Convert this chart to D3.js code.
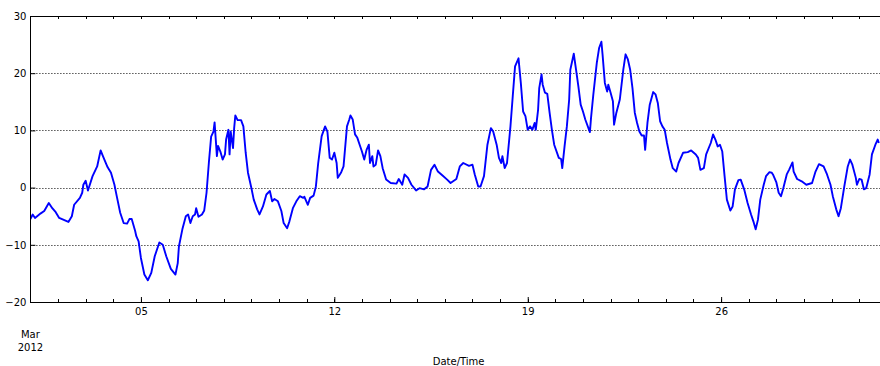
<!DOCTYPE html>
<html>
<head>
<meta charset="utf-8">
<script src="https://cdn.jsdelivr.net/npm/d3@7"></script>
<style>
  html, body { margin: 0; padding: 0; background: #fff; }
  text { font-family: "DejaVu Sans", sans-serif; font-size: 10px; fill: #000; }
</style>
</head>
<body>
<svg id="chart" width="880" height="366"></svg>
<script>
// Hours since 2012-03-01 00:00
const hours = [0,2,4,9,12,16,19,22,25,33,36,38,43,45,46,48,50,54,58,61,63,67,70,73,75,78,81,84,86,88,91,92,
94,96,99,102,105,108,112,115,118,122,126,128,129,132,135,137,139,141,143,144,146,149,151,153,155,157,159,160,162,163,165,167,169,170,172,173,174,176,177,178,180,183,
185,187,189,192,194,197,199,202,205,208,210,212,215,218,220,223,225,228,231,234,237,238,241,243,246,248,250,253,256,258,260,262,264,266,267,270,272,275,
277,278,280,282,284,286,288,290,292,294,295,297,298,300,302,304,306,309,313,318,320,323,325,328,331,335,338,342,345,348,351,354,358,362,365,
370,373,376,381,384,386,389,391,394,397,400,402,405,407,409,410,412,414,417,419,421,424,426,428,430,432,434,436,438,439,441,442,444,445,447,449,451,453,455,459,
461,462,464,466,468,469,472,474,476,478,480,482,486,487,489,492,494,496,497,499,501,502,504,506,507,509,512,515,517,519,521,523,525,527,529,531,533,534,536,538,541,543,545,547,549,551,
553,556,558,561,563,567,571,574,578,580,582,585,587,591,593,595,597,599,601,603,605,608,610,612,615,617,620,623,626,628,630,632,634,637,639,642,644,
645,648,650,652,654,657,659,662,663,666,670,674,679,682,685,689,692,695,697,700,702,704,707,710,712,714,717,718,720,722,724,726,729,731,734,736,737];

const temps = [-5.5,-4.7,-5.3,-4.5,-4.1,-2.7,-3.6,-4.3,-5.3,-6.0,-5.0,-3.0,-1.8,-0.9,0.5,1.2,-0.5,2.0,3.7,6.5,5.5,3.6,2.6,0.5,-1.5,-4.4,-6.2,-6.3,-5.5,-5.5,-7.6,-8.5,
-9.4,-12.3,-15.2,-16.2,-14.9,-12.0,-9.6,-10.0,-12.0,-14.2,-15.2,-13.2,-10.3,-7.3,-5.0,-4.7,-6.2,-5.0,-4.7,-3.6,-5.1,-4.7,-4.0,-0.9,4.3,8.9,9.8,11.4,5.5,7.3,6.3,4.9,5.8,8.4,10.1,5.8,9.8,6.9,10.4,12.6,11.8,11.8,
10.7,6.1,2.6,-0.1,-2.1,-3.8,-4.7,-3.3,-1.2,-0.6,-2.4,-2.0,-2.4,-4.1,-6.2,-7.1,-5.9,-3.6,-2.4,-1.5,-1.8,-1.6,-3.0,-1.8,-1.4,0.2,4.3,9.0,10.7,9.8,5.2,4.9,6.1,4.3,1.7,2.7,3.7,10.7,
11.9,12.6,11.9,9.3,8.7,7.5,6.3,4.9,6.6,7.5,4.3,5.5,3.7,4.0,6.5,5.5,3.4,1.4,0.8,0.7,1.5,0.5,2.3,1.7,0.5,-0.5,-0.1,-0.3,0.2,3.1,4.0,2.8,2.1,1.4,0.8,
1.5,3.7,4.3,3.8,4.0,2.3,0.2,0.2,2.0,7.5,10.4,9.8,7.5,5.2,4.3,5.5,3.4,4.3,10.7,16.0,21.2,22.6,18.3,13.3,12.5,10.1,10.7,10.1,11.3,10.1,13.6,17.4,19.8,18.0,16.6,16.4,13.1,10.1,7.5,5.2,
5.0,3.4,7.2,10.7,15.4,20.6,23.4,20.6,17.7,14.5,13.3,11.9,9.7,12.2,16.3,21.8,24.4,25.5,23.3,18.3,16.8,18.0,16.6,15.1,11.0,13.1,15.4,20.6,23.3,22.4,20.6,17.4,13.1,11.3,9.8,9.1,9.1,6.6,11.3,14.5,16.7,16.3,14.8,11.6,10.7,10.1,
7.8,4.9,3.4,2.8,4.3,6.1,6.2,6.5,5.8,5.2,3.1,3.4,5.8,7.8,9.3,8.4,7.2,7.5,6.3,2.0,-2.1,-4.0,-3.3,-0.3,1.3,1.4,-0.3,-2.7,-4.7,-5.9,-7.3,-5.6,-2.1,0.5,2.0,2.7,2.6,
2.3,0.9,-0.9,-1.5,-0.1,2.3,3.1,4.4,2.8,1.5,1.1,0.5,0.8,2.8,4.1,3.7,2.3,0.5,-1.5,-3.8,-5.0,-3.6,0.2,3.7,4.9,4.0,1.7,0.5,1.5,1.4,-0.3,-0.1,2.3,5.8,7.5,8.4,7.8];

const yTicks = [-20, -10, 0, 10, 20, 30];
const majorDays = [5, 12, 19, 26];
const majorLabels = ["05", "12", "19", "26"];
const xTitle = "Date/Time";
const monthLabel = ["Mar", "2012"];

const start = new Date(2012, 2, 1, 0, 0);
const end = new Date(2012, 3, 1, 0, 0);
const data = hours.map((h, i) => ({ t: d3.timeHour.offset(start, h), v: temps[i] }));

const L = 30.4, R = 886.9, T = 16, B = 302;
const svg = d3.select("#chart");

const x = d3.scaleTime().domain([start, end]).range([L, R]);
const y = d3.scaleLinear().domain([-20, 30]).range([B, T]);

svg.append("defs").append("clipPath").attr("id", "clip")
  .append("rect").attr("x", L).attr("y", T).attr("width", R - L).attr("height", B - T);

// grid
svg.append("g").selectAll("line").data(yTicks.filter(v => v > -20 && v < 30)).join("line")
  .attr("x1", L).attr("x2", R)
  .attr("y1", d => Math.round(y(d)) + 0.5).attr("y2", d => Math.round(y(d)) + 0.5)
  .attr("stroke", "#000").attr("stroke-width", 1).attr("stroke-dasharray", "1,2");

// line
svg.append("path").datum(data)
  .attr("clip-path", "url(#clip)")
  .attr("fill", "none").attr("stroke", "#0000ff").attr("stroke-width", 1.9)
  .attr("stroke-linejoin", "round")
  .attr("d", d3.line().x(d => x(d.t)).y(d => y(d.v)));

// minor day ticks (bottom and top)
const allDays = d3.timeDay.range(d3.timeDay.offset(start, 1), end);
svg.append("g").selectAll("line").data(allDays).join("line")
  .attr("x1", d => Math.round(x(d)) + 0.5).attr("x2", d => Math.round(x(d)) + 0.5)
  .attr("y1", B).attr("y2", B - 3).attr("stroke", "#000");
svg.append("g").selectAll("line").data(allDays).join("line")
  .attr("x1", d => Math.round(x(d)) + 0.5).attr("x2", d => Math.round(x(d)) + 0.5)
  .attr("y1", T).attr("y2", T + 3).attr("stroke", "#000");

// x axis labels
const majorDates = majorDays.map(d => new Date(2012, 2, d));
const xAxis = d3.axisBottom(x).tickValues(majorDates)
  .tickFormat((d, i) => majorLabels[i]).tickSize(-5).tickPadding(6);
const gx = svg.append("g").attr("transform", `translate(0,${B})`).call(xAxis);
gx.select(".domain").remove();
gx.selectAll("text").style("font-family", "DejaVu Sans").style("font-size", "10px");

// y axis
const yAxis = d3.axisLeft(y).tickValues(yTicks)
  .tickFormat(d => d < 0 ? "\u2212" + Math.abs(d) : String(d)).tickSize(-5).tickPadding(4);
const gy = svg.append("g").attr("transform", `translate(${L},0)`).call(yAxis);
gy.select(".domain").remove();
gy.selectAll("text").style("font-family", "DejaVu Sans").style("font-size", "10px");

// frame
svg.append("rect").attr("x", Math.round(L) + 0.5).attr("y", T + 0.5)
  .attr("width", R - L).attr("height", B - T)
  .attr("fill", "none").attr("stroke", "#000").attr("stroke-width", 1);

// Month / year label
svg.append("text").attr("x", L).attr("y", 338).attr("text-anchor", "middle").text(monthLabel[0]);
svg.append("text").attr("x", L).attr("y", 351).attr("text-anchor", "middle").text(monthLabel[1]);

// axis title
svg.append("text").attr("x", (L + R) / 2).attr("y", 365).attr("text-anchor", "middle").text(xTitle);
</script>
</body>
</html>
